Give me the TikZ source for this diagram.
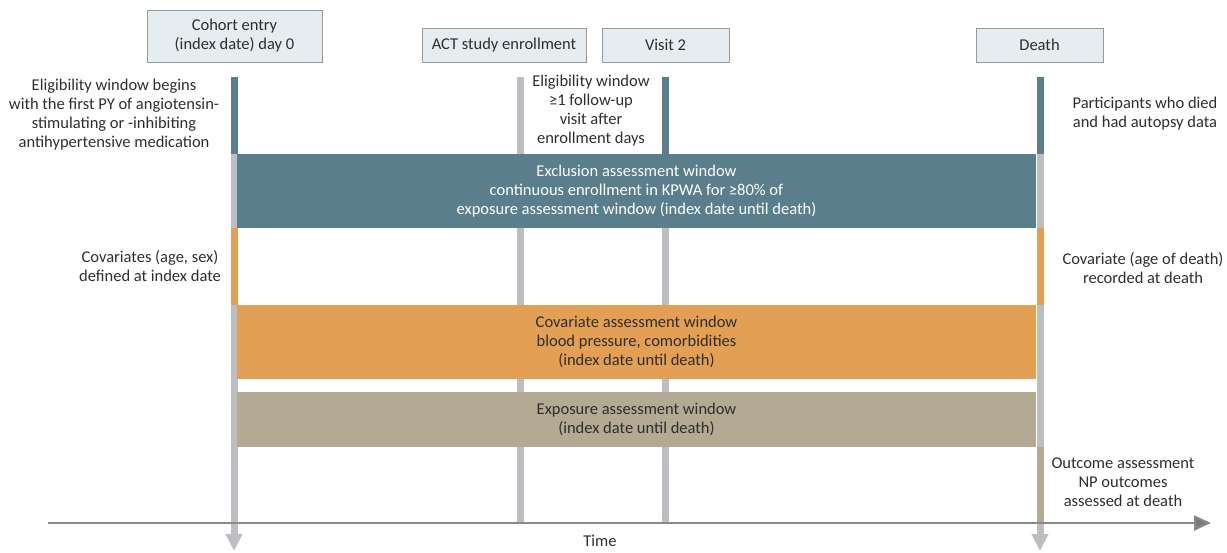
\documentclass[tikz,border=0pt]{standalone}
\usepackage{fontspec}
\setmainfont{Carlito}
\usetikzlibrary{arrows.meta}
\definecolor{cteal}{HTML}{5B7E8C}
\definecolor{corange}{HTML}{E3A055}
\definecolor{ctan}{HTML}{B4A993}
\definecolor{cgray}{HTML}{BDBEC2}
\definecolor{cbox}{HTML}{E6EDF0}
\definecolor{cboxline}{HTML}{9A9A9A}
\definecolor{ctext}{HTML}{2E2E2E}
\definecolor{caxis}{HTML}{8A8A8A}
\definecolor{caxtip}{HTML}{7A7A7A}
\begin{document}
\begin{tikzpicture}[x=1pt,y=-1pt,
  txt/.style={font=\fontsize{16.5}{19}\selectfont, text=ctext, align=center, inner sep=0pt},
  topbox/.style={txt, draw=cboxline, fill=cbox, line width=1pt, minimum height=34pt},
  band/.style={txt, minimum width=799pt, inner sep=0pt},
  vline/.style={line width=7pt, draw=cgray, line cap=butt},
  downtip/.style={-{Triangle[length=17pt,width=16pt]}},
]
\useasboundingbox (0,0) rectangle (1227,552);

% top boxes
\node[topbox, minimum width=175pt, minimum height=52pt] (cohort) at (234.5,36) {Cohort entry\\(index date) day 0};
\node[topbox, minimum width=164pt] (act) at (504,45) {ACT study enrollment};
\node[topbox, minimum width=127pt] (visit) at (665.5,45) {Visit 2};
\node[topbox, minimum width=127pt] (death) at (1039.5,45) {Death};

% coordinates of vertical lines
\coordinate (i1) at (234,77);  \coordinate (i2) at (234,154);
\coordinate (i3) at (234,228); \coordinate (i4) at (234,305);
\coordinate (i5) at (234,551);
\coordinate (a1) at (520,77);  \coordinate (a2) at (520,523);
\coordinate (v1) at (665,77);  \coordinate (v2) at (665,154);
\coordinate (v3) at (665,523);
\coordinate (d1) at (1040,77);  \coordinate (d2) at (1040,154);
\coordinate (d3) at (1040,228); \coordinate (d4) at (1040,305);
\coordinate (d5) at (1040,447); \coordinate (d6) at (1040,523);
\coordinate (d7) at (1040,551);

% index date line
\draw[vline, cteal] (i1) -- (i2);
\draw[vline] (i2) -- (i3);
\draw[vline, corange] (i3) -- (i4);
\draw[vline, downtip] (i4) -- (i5);
% ACT line
\draw[vline] (a1) -- (a2);
% Visit 2 line
\draw[vline, cteal] (v1) -- (v2);
\draw[vline] (v2) -- (v3);
% death line
\draw[vline, cteal] (d1) -- (d2);
\draw[vline] (d2) -- (d3);
\draw[vline, corange] (d3) -- (d4);
\draw[vline] (d4) -- (d5);
\draw[vline, ctan] (d5) -- (d6);
\draw[vline, downtip] (d6) -- (d7);

% bands
\node[band, fill=cteal, minimum height=74pt, text=white] (excl) at (636.5,191)
  {Exclusion assessment window\\continuous enrollment in KPWA for ≥80\% of\\exposure assessment window (index date until death)};
\node[band, fill=corange, minimum height=74pt] (covw) at (636.5,342)
  {Covariate assessment window\\blood pressure, comorbidities\\(index date until death)};
\node[band, fill=ctan, minimum height=55pt] (expw) at (636.5,419.5)
  {Exposure assessment window\\(index date until death)};

% time axis
\coordinate (ax0) at (48,523);
\coordinate (ax1) at (1211,523);
\draw[line width=2pt, caxis, -{Triangle[length=17pt,width=15pt,fill=caxtip]}] (ax0) -- (ax1);
\node[txt] (time) at (600,541) {Time};

% side texts
\node[txt] (elig) at (114,115) {Eligibility window begins\\with the first PY of angiotensin-\\stimulating or -inhibiting\\antihypertensive medication};
\node[txt] (elig2) at (591,111) {Eligibility window\\≥1 follow-up\\visit after\\enrollment days};
\node[txt] (part) at (1145,114) {Participants who died\\and had autopsy data};
\node[txt] (covl) at (150,266) {Covariates (age, sex)\\defined at index date};
\node[txt] (covr) at (1143,268) {Covariate (age of death)\\recorded at death};
\node[txt] (outc) at (1123,482) {Outcome assessment\\NP outcomes\\assessed at death};
\end{tikzpicture}
\end{document}
